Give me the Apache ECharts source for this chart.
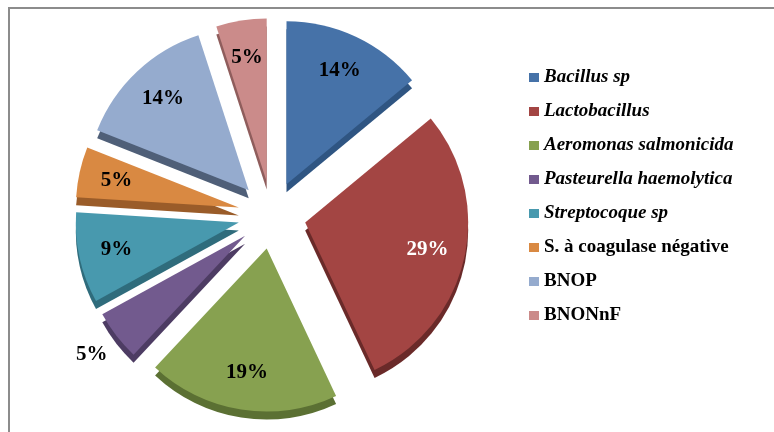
<!DOCTYPE html>
<html>
<head>
<meta charset="utf-8">
<script src="https://cdn.jsdelivr.net/npm/echarts@6/dist/echarts.min.js"></script>
<style>
  html, body { margin: 0; padding: 0; background: #fff; }
  #frame { position: absolute; left: 8px; top: 7px; width: 800px; height: 460px;
           border-top: 2px solid #8c8c8c; border-left: 2px solid #8c8c8c; }
  #chart { position: absolute; left: 0; top: 0; width: 774px; height: 432px; }
</style>
</head>
<body>
<div id="frame"></div>
<div id="chart"></div>
<script>
// Bacterial isolates, share of total (%)
const categories = [
  'Bacillus sp',
  'Lactobacillus',
  'Aeromonas salmonicida',
  'Pasteurella haemolytica',
  'Streptocoque sp',
  'S. à coagulase négative',
  'BNOP',
  'BNONnF'
];
const shares = [14, 29, 19, 5, 9, 5, 14, 5];
const italicNames = [true, true, true, true, true, false, false, false];
// which slices print their value outside the wedge
const outsideLabel = [false, false, false, true, false, false, false, false];

const topColors  = ['#4672a8', '#a34543', '#87a150', '#725a8e', '#4899ae', '#d98942', '#95abce', '#cb8b8a'];
const sideColors = ['#2f5582', '#6a2a29', '#5b7033', '#4d3c63', '#2f6c7c', '#9a5c29', '#4f5f78', '#8f5d5c'];
const valueLabelColors = ['#000', '#fff', '#000', '#000', '#000', '#000', '#000', '#000'];

const CENTER = [272, 215];
const R = 163;
const EXPLODE = 34;
const DEPTH = 8;
const serif = '"Liberation Serif", "Times New Roman", serif';

const chart = echarts.init(document.getElementById('chart'), null, { renderer: 'canvas' });

const topData = categories.map((name, i) => ({
  name, value: shares[i], selected: true,
  itemStyle: { color: topColors[i] }
}));

const sideData = categories.map((name, i) => ({
  name, value: shares[i], selected: true,
  itemStyle: { color: sideColors[i] }
}));

const innerLabelData = categories.map((name, i) => ({
  name, value: shares[i], selected: true,
  itemStyle: { color: 'rgba(0,0,0,0)' },
  label: { show: !outsideLabel[i], color: valueLabelColors[i] }
}));

const outerLabelData = categories.map((name, i) => ({
  name, value: shares[i], selected: true,
  itemStyle: { color: 'rgba(0,0,0,0)' },
  label: { show: outsideLabel[i], color: '#000' }
}));

const common = {
  type: 'pie',
  startAngle: 90,
  clockwise: true,
  selectedMode: 'multiple',
  selectedOffset: EXPLODE,
  avoidLabelOverlap: false,
  silent: true,
  animation: false,
  emphasis: { disabled: true },
  labelLine: { show: false }
};

const valueLabel = {
  show: true,
  position: 'inside',
  formatter: '{c}%',
  fontFamily: serif,
  fontWeight: 'bold',
  fontSize: 21
};

chart.setOption({
  backgroundColor: 'transparent',
  animation: false,
  legend: {
    orient: 'vertical',
    left: 524,
    top: 63,
    icon: 'rect',
    itemWidth: 10,
    itemHeight: 9,
    itemGap: 15,
    selectedMode: false,
    data: categories,
    formatter: (name) => {
      const i = categories.indexOf(name);
      return (italicNames[i] ? '{i|' : '{b|') + name + '}';
    },
    textStyle: {
      color: '#000',
      rich: {
        i: { fontFamily: serif, fontStyle: 'italic', fontWeight: 'bold', fontSize: 19, lineHeight: 20 },
        b: { fontFamily: serif, fontWeight: 'bold', fontSize: 19, lineHeight: 20 }
      }
    }
  },
  series: [
    Object.assign({}, common, {
      name: 'top', z: 3, center: CENTER, radius: [0, R],
      label: { show: false }, data: topData
    }),
    Object.assign({}, common, {
      name: 'side', z: 2, center: [CENTER[0], CENTER[1] + DEPTH], radius: [0, R],
      label: { show: false }, data: sideData
    }),
    Object.assign({}, common, {
      name: 'values', z: 4, center: CENTER, radius: [0, R * 1.5],
      label: valueLabel, data: innerLabelData
    }),
    Object.assign({}, common, {
      name: 'outer values', z: 4, center: CENTER, radius: [R, 219],
      label: valueLabel, data: outerLabelData
    })
  ]
});
</script>
</body>
</html>
